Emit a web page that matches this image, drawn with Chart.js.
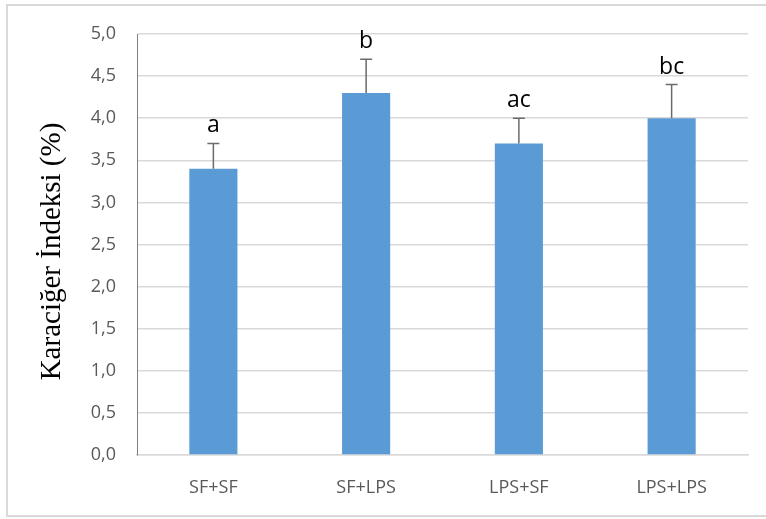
<!DOCTYPE html>
<html>
<head>
<meta charset="utf-8">
<script src="https://cdn.jsdelivr.net/npm/chart.js@4.4.1/dist/chart.umd.min.js"></script>
<style>
  html, body { margin: 0; padding: 0; background: #ffffff; }
  #wrap { position: relative; width: 766px; height: 519px; }
  canvas { display: block; }
</style>
</head>
<body>
<div id="wrap"><canvas id="c" width="766" height="519"></canvas></div>
<script>
// Groups and liver index means (%), with upper standard error
const groups = ['SF+SF', 'SF+LPS', 'LPS+SF', 'LPS+LPS'];
const meanValues = [3.4, 4.3, 3.7, 4.0];
const errorValues = [0.3, 0.4, 0.3, 0.4];
const letters = ['a', 'b', 'ac', 'bc'];
const yTitle = 'Karaciğer İndeksi (%)';

const tickFont = "'Open Sans', 'Liberation Sans', sans-serif";

// Outer frame around the whole figure
const framePlugin = {
  id: 'frame',
  beforeDraw(chart) {
    const ctx = chart.ctx;
    ctx.save();
    ctx.fillStyle = '#ffffff';
    ctx.fillRect(0, 0, chart.width, chart.height);
    ctx.strokeStyle = '#d9d9d9';
    ctx.lineWidth = 2;
    ctx.strokeRect(7, 5, 770, 511);
    ctx.restore();
  }
};

// Upper error whiskers and significance letters
const errorPlugin = {
  id: 'errors',
  afterDatasetsDraw(chart) {
    const ctx = chart.ctx;
    const meta = chart.getDatasetMeta(0);
    const y = chart.scales.y;
    ctx.save();
    meta.data.forEach((bar, i) => {
      const x = bar.x;
      const yTop = y.getPixelForValue(meanValues[i] + errorValues[i]);
      const yBar = y.getPixelForValue(meanValues[i]);
      ctx.strokeStyle = '#6b6b6b';
      ctx.lineWidth = 1.5;
      ctx.beginPath();
      ctx.moveTo(x, yBar);
      ctx.lineTo(x, yTop);
      ctx.moveTo(x - 6, yTop);
      ctx.lineTo(x + 6, yTop);
      ctx.stroke();
      ctx.fillStyle = '#000000';
      ctx.font = "23px " + tickFont;
      ctx.textAlign = 'center';
      ctx.textBaseline = 'alphabetic';
      ctx.fillText(letters[i], x, yTop - 11);
    });
    ctx.restore();
  },
  afterDraw(chart) {
    const ctx = chart.ctx;
    const area = chart.chartArea;
    ctx.save();
    ctx.translate(52, (area.top + area.bottom) / 2 + 7);
    ctx.rotate(-Math.PI / 2);
    ctx.fillStyle = '#000000';
    ctx.font = "29px 'Liberation Serif', 'Times New Roman', serif";
    ctx.textAlign = 'center';
    ctx.textBaseline = 'middle';
    ctx.fillText(yTitle, 0, 0);
    ctx.restore();
  }
};

new Chart(document.getElementById('c'), {
  type: 'bar',
  data: {
    labels: groups,
    datasets: [{
      data: meanValues,
      backgroundColor: '#5b9bd5',
      borderWidth: 0,
      categoryPercentage: 1.0,
      barPercentage: 0.315
    }]
  },
  options: {
    responsive: false,
    animation: false,
    devicePixelRatio: 1,
    layout: { padding: { left: 0, right: 18, top: 34, bottom: 22 } },
    plugins: { legend: { display: false }, tooltip: { enabled: false } },
    scales: {
      x: {
        grid: { display: false, drawTicks: false },
        border: { display: true, color: '#d9d9d9', width: 1.5 },
        ticks: {
          color: '#595959',
          font: { family: tickFont, size: 18 },
          padding: 22
        },
        afterFit(scale) { scale.height = 42; }
      },
      y: {
        min: 0,
        max: 5,
        grid: { color: '#d9d9d9', lineWidth: 1.5, drawTicks: false },
        border: { display: true, color: '#808080', width: 1 },
        ticks: {
          stepSize: 0.5,
          color: '#595959',
          font: { family: tickFont, size: 18 },
          padding: 21,
          callback: (v) => Number(v).toFixed(1).replace('.', ',')
        },
        afterFit(scale) { scale.width = 137; }
      }
    }
  },
  plugins: [framePlugin, errorPlugin]
});
</script>
</body>
</html>
